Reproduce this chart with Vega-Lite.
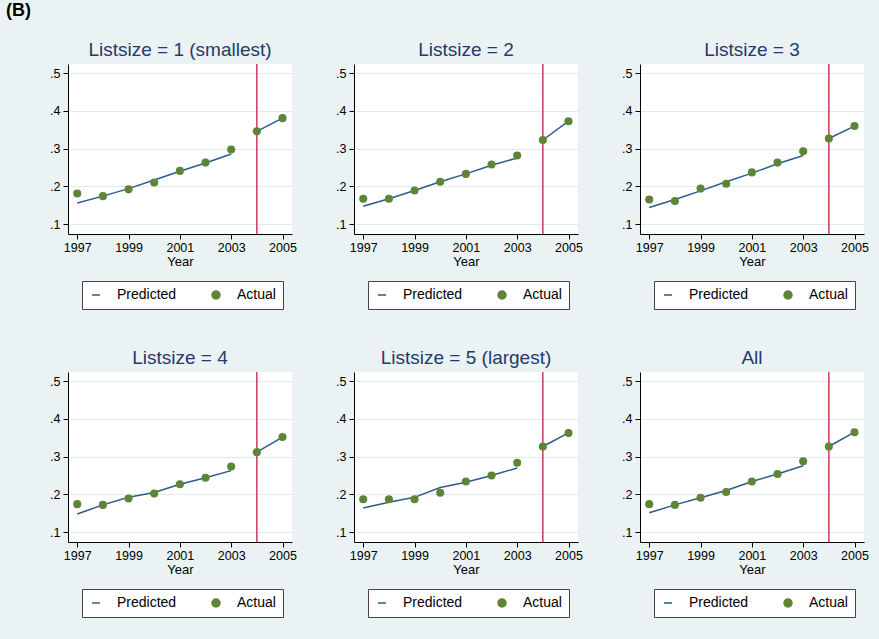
{
  "$schema": "https://vega.github.io/schema/vega-lite/v6.json",
  "background": "#eaf2f3",
  "padding": {"left": 6, "top": 2, "right": 14, "bottom": 26},
  "title": {"text": "(B)", "anchor": "start", "frame": "group", "fontSize": 18, "fontWeight": "bold", "color": "#000000", "dx": -62, "offset": 21},
  "config": {
    "view": {"fill": "white", "stroke": null},
    "font": "Liberation Sans",
    "title": {"fontSize": 19, "fontWeight": "normal", "color": "#1f3b6f", "font": "Liberation Sans", "offset": 3, "anchor": "middle"},
    "axis": {"domainColor": "#000000", "tickColor": "#000000", "labelColor": "#000000", "labelFontSize": 12.5, "titleFontSize": 13, "titleFontWeight": "normal", "titleColor": "#000000", "labelFont": "Liberation Sans", "titleFont": "Liberation Sans"}
  },
  "resolve": {"scale": {"color": "independent"}, "legend": {"color": "independent"}},
  "columns": 3,
  "spacing": {"row": 39, "column": 38},
  "datasets": {
    "rows": [
      {"panel": "p1", "year": 1997, "actual": 0.181, "predicted": 0.156, "seg": "fit"},
      {"panel": "p1", "year": 1998, "actual": 0.174, "predicted": 0.174, "seg": "fit"},
      {"panel": "p1", "year": 1999, "actual": 0.192, "predicted": 0.194, "seg": "fit"},
      {"panel": "p1", "year": 2000, "actual": 0.210, "predicted": 0.217, "seg": "fit"},
      {"panel": "p1", "year": 2001, "actual": 0.241, "predicted": 0.240, "seg": "fit"},
      {"panel": "p1", "year": 2002, "actual": 0.263, "predicted": 0.262, "seg": "fit"},
      {"panel": "p1", "year": 2003, "actual": 0.298, "predicted": 0.286, "seg": "fit"},
      {"panel": "p1", "year": 2004, "actual": 0.346, "predicted": 0.346, "seg": "post"},
      {"panel": "p1", "year": 2005, "actual": 0.381, "predicted": 0.381, "seg": "post"},
      {"panel": "p2", "year": 1997, "actual": 0.167, "predicted": 0.147, "seg": "fit"},
      {"panel": "p2", "year": 1998, "actual": 0.167, "predicted": 0.167, "seg": "fit"},
      {"panel": "p2", "year": 1999, "actual": 0.189, "predicted": 0.189, "seg": "fit"},
      {"panel": "p2", "year": 2000, "actual": 0.212, "predicted": 0.212, "seg": "fit"},
      {"panel": "p2", "year": 2001, "actual": 0.233, "predicted": 0.233, "seg": "fit"},
      {"panel": "p2", "year": 2002, "actual": 0.258, "predicted": 0.256, "seg": "fit"},
      {"panel": "p2", "year": 2003, "actual": 0.282, "predicted": 0.275, "seg": "fit"},
      {"panel": "p2", "year": 2004, "actual": 0.323, "predicted": 0.323, "seg": "post"},
      {"panel": "p2", "year": 2005, "actual": 0.373, "predicted": 0.373, "seg": "post"},
      {"panel": "p3", "year": 1997, "actual": 0.165, "predicted": 0.144, "seg": "fit"},
      {"panel": "p3", "year": 1998, "actual": 0.161, "predicted": 0.165, "seg": "fit"},
      {"panel": "p3", "year": 1999, "actual": 0.194, "predicted": 0.188, "seg": "fit"},
      {"panel": "p3", "year": 2000, "actual": 0.207, "predicted": 0.212, "seg": "fit"},
      {"panel": "p3", "year": 2001, "actual": 0.237, "predicted": 0.235, "seg": "fit"},
      {"panel": "p3", "year": 2002, "actual": 0.263, "predicted": 0.260, "seg": "fit"},
      {"panel": "p3", "year": 2003, "actual": 0.293, "predicted": 0.282, "seg": "fit"},
      {"panel": "p3", "year": 2004, "actual": 0.327, "predicted": 0.327, "seg": "post"},
      {"panel": "p3", "year": 2005, "actual": 0.360, "predicted": 0.360, "seg": "post"},
      {"panel": "p4", "year": 1997, "actual": 0.174, "predicted": 0.148, "seg": "fit"},
      {"panel": "p4", "year": 1998, "actual": 0.172, "predicted": 0.172, "seg": "fit"},
      {"panel": "p4", "year": 1999, "actual": 0.189, "predicted": 0.192, "seg": "fit"},
      {"panel": "p4", "year": 2000, "actual": 0.202, "predicted": 0.205, "seg": "fit"},
      {"panel": "p4", "year": 2001, "actual": 0.227, "predicted": 0.227, "seg": "fit"},
      {"panel": "p4", "year": 2002, "actual": 0.244, "predicted": 0.244, "seg": "fit"},
      {"panel": "p4", "year": 2003, "actual": 0.274, "predicted": 0.263, "seg": "fit"},
      {"panel": "p4", "year": 2004, "actual": 0.312, "predicted": 0.312, "seg": "post"},
      {"panel": "p4", "year": 2005, "actual": 0.352, "predicted": 0.352, "seg": "post"},
      {"panel": "p5", "year": 1997, "actual": 0.187, "predicted": 0.164, "seg": "fit"},
      {"panel": "p5", "year": 1998, "actual": 0.187, "predicted": 0.179, "seg": "fit"},
      {"panel": "p5", "year": 1999, "actual": 0.187, "predicted": 0.192, "seg": "fit"},
      {"panel": "p5", "year": 2000, "actual": 0.204, "predicted": 0.218, "seg": "fit"},
      {"panel": "p5", "year": 2001, "actual": 0.234, "predicted": 0.232, "seg": "fit"},
      {"panel": "p5", "year": 2002, "actual": 0.250, "predicted": 0.250, "seg": "fit"},
      {"panel": "p5", "year": 2003, "actual": 0.284, "predicted": 0.270, "seg": "fit"},
      {"panel": "p5", "year": 2004, "actual": 0.327, "predicted": 0.327, "seg": "post"},
      {"panel": "p5", "year": 2005, "actual": 0.363, "predicted": 0.363, "seg": "post"},
      {"panel": "p6", "year": 1997, "actual": 0.174, "predicted": 0.151, "seg": "fit"},
      {"panel": "p6", "year": 1998, "actual": 0.172, "predicted": 0.172, "seg": "fit"},
      {"panel": "p6", "year": 1999, "actual": 0.191, "predicted": 0.191, "seg": "fit"},
      {"panel": "p6", "year": 2000, "actual": 0.206, "predicted": 0.210, "seg": "fit"},
      {"panel": "p6", "year": 2001, "actual": 0.234, "predicted": 0.234, "seg": "fit"},
      {"panel": "p6", "year": 2002, "actual": 0.254, "predicted": 0.254, "seg": "fit"},
      {"panel": "p6", "year": 2003, "actual": 0.288, "predicted": 0.276, "seg": "fit"},
      {"panel": "p6", "year": 2004, "actual": 0.327, "predicted": 0.327, "seg": "post"},
      {"panel": "p6", "year": 2005, "actual": 0.365, "predicted": 0.365, "seg": "post"}
    ],
    "cut": [{"year": 2004}]
  },
  "concat": [
    {
      "title": "Listsize = 1 (smallest)", "width": 224, "height": 170,
      "layer": [
        {"data": {"name": "cut"}, "mark": {"type": "rule", "color": "#cc3a5c", "strokeWidth": 1.5},
         "encoding": {"x": {"field": "year", "type": "quantitative", "scale": {"domain": [1996.64, 2005.37], "nice": false, "zero": false}}}},
        {"data": {"name": "rows"}, "transform": [{"filter": {"field": "panel", "equal": "p1"}}],
         "mark": {"type": "line", "strokeWidth": 1.5},
         "encoding": {
           "x": {"field": "year", "type": "quantitative", "scale": {"domain": [1996.64, 2005.37], "nice": false, "zero": false},
                 "axis": {"title": "Year", "values": [1997, 1998, 1999, 2000, 2001, 2002, 2003, 2004, 2005], "format": "d", "labelExpr": "datum.value % 2 === 1 ? datum.label : ''", "tickSize": {"condition": {"test": "datum.value % 2 === 1", "value": 5}, "value": 3}, "grid": false, "labelPadding": 2, "titlePadding": 2, "labelFlush": false, "labelOverlap": false}},
           "y": {"field": "predicted", "type": "quantitative", "scale": {"domain": [0.0735, 0.5247], "nice": false, "zero": false},
                 "axis": {"title": null, "values": [0.1, 0.15, 0.2, 0.25, 0.3, 0.35, 0.4, 0.45, 0.5], "labelExpr": "round(datum.value*100) % 10 === 0 ? replace(format(datum.value, '.1f'), '0.', '.') : ''", "tickSize": {"condition": {"test": "round(datum.value*100) % 10 === 0", "value": 5}, "value": 3}, "grid": true, "gridColor": {"condition": {"test": "round(datum.value*100) % 10 === 0", "value": "#e3eaee"}, "value": "transparent"}, "labelPadding": 3, "labelOverlap": false}},
           "detail": {"field": "seg"},
           "color": {"datum": "Predicted", "scale": {"domain": ["Predicted", "Actual"], "range": ["#2b5c8a", "#5e8536"]},
                     "legend": {"title": null, "orient": "none", "legendX": 14, "legendY": 217, "direction": "horizontal", "fillColor": "white", "strokeColor": "#444444", "padding": 7, "symbolSize": 64, "labelFontSize": 14, "labelFont": "Liberation Sans", "labelColor": "#000000", "labelOffset": 14, "columnPadding": 32,
                                "encode": {"symbols": {"update": {"shape": {"signal": "datum.value === 'Predicted' ? 'stroke' : 'circle'"}, "fill": {"signal": "datum.value === 'Predicted' ? 'transparent' : '#5e8536'"}, "stroke": {"signal": "datum.value === 'Predicted' ? '#2b5c8a' : 'transparent'"}, "strokeWidth": {"value": 1.5}, "opacity": {"value": 1}}}}}}
         }},
        {"data": {"name": "rows"}, "transform": [{"filter": {"field": "panel", "equal": "p1"}}],
         "mark": {"type": "circle", "size": 65, "opacity": 1},
         "encoding": {
           "x": {"field": "year", "type": "quantitative", "scale": {"domain": [1996.64, 2005.37], "nice": false, "zero": false}},
           "y": {"field": "actual", "type": "quantitative", "scale": {"domain": [0.0735, 0.5247], "nice": false, "zero": false}},
           "color": {"datum": "Actual"}
         }}
      ]
    },
    {
      "title": "Listsize = 2", "width": 224, "height": 170,
      "layer": [
        {"data": {"name": "cut"}, "mark": {"type": "rule", "color": "#cc3a5c", "strokeWidth": 1.5},
         "encoding": {"x": {"field": "year", "type": "quantitative", "scale": {"domain": [1996.64, 2005.37], "nice": false, "zero": false}}}},
        {"data": {"name": "rows"}, "transform": [{"filter": {"field": "panel", "equal": "p2"}}],
         "mark": {"type": "line", "strokeWidth": 1.5},
         "encoding": {
           "x": {"field": "year", "type": "quantitative", "scale": {"domain": [1996.64, 2005.37], "nice": false, "zero": false},
                 "axis": {"title": "Year", "values": [1997, 1998, 1999, 2000, 2001, 2002, 2003, 2004, 2005], "format": "d", "labelExpr": "datum.value % 2 === 1 ? datum.label : ''", "tickSize": {"condition": {"test": "datum.value % 2 === 1", "value": 5}, "value": 3}, "grid": false, "labelPadding": 2, "titlePadding": 2, "labelFlush": false, "labelOverlap": false}},
           "y": {"field": "predicted", "type": "quantitative", "scale": {"domain": [0.0735, 0.5247], "nice": false, "zero": false},
                 "axis": {"title": null, "values": [0.1, 0.15, 0.2, 0.25, 0.3, 0.35, 0.4, 0.45, 0.5], "labelExpr": "round(datum.value*100) % 10 === 0 ? replace(format(datum.value, '.1f'), '0.', '.') : ''", "tickSize": {"condition": {"test": "round(datum.value*100) % 10 === 0", "value": 5}, "value": 3}, "grid": true, "gridColor": {"condition": {"test": "round(datum.value*100) % 10 === 0", "value": "#e3eaee"}, "value": "transparent"}, "labelPadding": 3, "labelOverlap": false}},
           "detail": {"field": "seg"},
           "color": {"datum": "Predicted", "scale": {"domain": ["Predicted", "Actual"], "range": ["#2b5c8a", "#5e8536"]},
                     "legend": {"title": null, "orient": "none", "legendX": 14, "legendY": 217, "direction": "horizontal", "fillColor": "white", "strokeColor": "#444444", "padding": 7, "symbolSize": 64, "labelFontSize": 14, "labelFont": "Liberation Sans", "labelColor": "#000000", "labelOffset": 14, "columnPadding": 32,
                                "encode": {"symbols": {"update": {"shape": {"signal": "datum.value === 'Predicted' ? 'stroke' : 'circle'"}, "fill": {"signal": "datum.value === 'Predicted' ? 'transparent' : '#5e8536'"}, "stroke": {"signal": "datum.value === 'Predicted' ? '#2b5c8a' : 'transparent'"}, "strokeWidth": {"value": 1.5}, "opacity": {"value": 1}}}}}}
         }},
        {"data": {"name": "rows"}, "transform": [{"filter": {"field": "panel", "equal": "p2"}}],
         "mark": {"type": "circle", "size": 65, "opacity": 1},
         "encoding": {
           "x": {"field": "year", "type": "quantitative", "scale": {"domain": [1996.64, 2005.37], "nice": false, "zero": false}},
           "y": {"field": "actual", "type": "quantitative", "scale": {"domain": [0.0735, 0.5247], "nice": false, "zero": false}},
           "color": {"datum": "Actual"}
         }}
      ]
    },
    {
      "title": "Listsize = 3", "width": 224, "height": 170,
      "layer": [
        {"data": {"name": "cut"}, "mark": {"type": "rule", "color": "#cc3a5c", "strokeWidth": 1.5},
         "encoding": {"x": {"field": "year", "type": "quantitative", "scale": {"domain": [1996.64, 2005.37], "nice": false, "zero": false}}}},
        {"data": {"name": "rows"}, "transform": [{"filter": {"field": "panel", "equal": "p3"}}],
         "mark": {"type": "line", "strokeWidth": 1.5},
         "encoding": {
           "x": {"field": "year", "type": "quantitative", "scale": {"domain": [1996.64, 2005.37], "nice": false, "zero": false},
                 "axis": {"title": "Year", "values": [1997, 1998, 1999, 2000, 2001, 2002, 2003, 2004, 2005], "format": "d", "labelExpr": "datum.value % 2 === 1 ? datum.label : ''", "tickSize": {"condition": {"test": "datum.value % 2 === 1", "value": 5}, "value": 3}, "grid": false, "labelPadding": 2, "titlePadding": 2, "labelFlush": false, "labelOverlap": false}},
           "y": {"field": "predicted", "type": "quantitative", "scale": {"domain": [0.0735, 0.5247], "nice": false, "zero": false},
                 "axis": {"title": null, "values": [0.1, 0.15, 0.2, 0.25, 0.3, 0.35, 0.4, 0.45, 0.5], "labelExpr": "round(datum.value*100) % 10 === 0 ? replace(format(datum.value, '.1f'), '0.', '.') : ''", "tickSize": {"condition": {"test": "round(datum.value*100) % 10 === 0", "value": 5}, "value": 3}, "grid": true, "gridColor": {"condition": {"test": "round(datum.value*100) % 10 === 0", "value": "#e3eaee"}, "value": "transparent"}, "labelPadding": 3, "labelOverlap": false}},
           "detail": {"field": "seg"},
           "color": {"datum": "Predicted", "scale": {"domain": ["Predicted", "Actual"], "range": ["#2b5c8a", "#5e8536"]},
                     "legend": {"title": null, "orient": "none", "legendX": 14, "legendY": 217, "direction": "horizontal", "fillColor": "white", "strokeColor": "#444444", "padding": 7, "symbolSize": 64, "labelFontSize": 14, "labelFont": "Liberation Sans", "labelColor": "#000000", "labelOffset": 14, "columnPadding": 32,
                                "encode": {"symbols": {"update": {"shape": {"signal": "datum.value === 'Predicted' ? 'stroke' : 'circle'"}, "fill": {"signal": "datum.value === 'Predicted' ? 'transparent' : '#5e8536'"}, "stroke": {"signal": "datum.value === 'Predicted' ? '#2b5c8a' : 'transparent'"}, "strokeWidth": {"value": 1.5}, "opacity": {"value": 1}}}}}}
         }},
        {"data": {"name": "rows"}, "transform": [{"filter": {"field": "panel", "equal": "p3"}}],
         "mark": {"type": "circle", "size": 65, "opacity": 1},
         "encoding": {
           "x": {"field": "year", "type": "quantitative", "scale": {"domain": [1996.64, 2005.37], "nice": false, "zero": false}},
           "y": {"field": "actual", "type": "quantitative", "scale": {"domain": [0.0735, 0.5247], "nice": false, "zero": false}},
           "color": {"datum": "Actual"}
         }}
      ]
    },
    {
      "title": "Listsize = 4", "width": 224, "height": 170,
      "layer": [
        {"data": {"name": "cut"}, "mark": {"type": "rule", "color": "#cc3a5c", "strokeWidth": 1.5},
         "encoding": {"x": {"field": "year", "type": "quantitative", "scale": {"domain": [1996.64, 2005.37], "nice": false, "zero": false}}}},
        {"data": {"name": "rows"}, "transform": [{"filter": {"field": "panel", "equal": "p4"}}],
         "mark": {"type": "line", "strokeWidth": 1.5},
         "encoding": {
           "x": {"field": "year", "type": "quantitative", "scale": {"domain": [1996.64, 2005.37], "nice": false, "zero": false},
                 "axis": {"title": "Year", "values": [1997, 1998, 1999, 2000, 2001, 2002, 2003, 2004, 2005], "format": "d", "labelExpr": "datum.value % 2 === 1 ? datum.label : ''", "tickSize": {"condition": {"test": "datum.value % 2 === 1", "value": 5}, "value": 3}, "grid": false, "labelPadding": 2, "titlePadding": 2, "labelFlush": false, "labelOverlap": false}},
           "y": {"field": "predicted", "type": "quantitative", "scale": {"domain": [0.0735, 0.5247], "nice": false, "zero": false},
                 "axis": {"title": null, "values": [0.1, 0.15, 0.2, 0.25, 0.3, 0.35, 0.4, 0.45, 0.5], "labelExpr": "round(datum.value*100) % 10 === 0 ? replace(format(datum.value, '.1f'), '0.', '.') : ''", "tickSize": {"condition": {"test": "round(datum.value*100) % 10 === 0", "value": 5}, "value": 3}, "grid": true, "gridColor": {"condition": {"test": "round(datum.value*100) % 10 === 0", "value": "#e3eaee"}, "value": "transparent"}, "labelPadding": 3, "labelOverlap": false}},
           "detail": {"field": "seg"},
           "color": {"datum": "Predicted", "scale": {"domain": ["Predicted", "Actual"], "range": ["#2b5c8a", "#5e8536"]},
                     "legend": {"title": null, "orient": "none", "legendX": 14, "legendY": 217, "direction": "horizontal", "fillColor": "white", "strokeColor": "#444444", "padding": 7, "symbolSize": 64, "labelFontSize": 14, "labelFont": "Liberation Sans", "labelColor": "#000000", "labelOffset": 14, "columnPadding": 32,
                                "encode": {"symbols": {"update": {"shape": {"signal": "datum.value === 'Predicted' ? 'stroke' : 'circle'"}, "fill": {"signal": "datum.value === 'Predicted' ? 'transparent' : '#5e8536'"}, "stroke": {"signal": "datum.value === 'Predicted' ? '#2b5c8a' : 'transparent'"}, "strokeWidth": {"value": 1.5}, "opacity": {"value": 1}}}}}}
         }},
        {"data": {"name": "rows"}, "transform": [{"filter": {"field": "panel", "equal": "p4"}}],
         "mark": {"type": "circle", "size": 65, "opacity": 1},
         "encoding": {
           "x": {"field": "year", "type": "quantitative", "scale": {"domain": [1996.64, 2005.37], "nice": false, "zero": false}},
           "y": {"field": "actual", "type": "quantitative", "scale": {"domain": [0.0735, 0.5247], "nice": false, "zero": false}},
           "color": {"datum": "Actual"}
         }}
      ]
    },
    {
      "title": "Listsize = 5 (largest)", "width": 224, "height": 170,
      "layer": [
        {"data": {"name": "cut"}, "mark": {"type": "rule", "color": "#cc3a5c", "strokeWidth": 1.5},
         "encoding": {"x": {"field": "year", "type": "quantitative", "scale": {"domain": [1996.64, 2005.37], "nice": false, "zero": false}}}},
        {"data": {"name": "rows"}, "transform": [{"filter": {"field": "panel", "equal": "p5"}}],
         "mark": {"type": "line", "strokeWidth": 1.5},
         "encoding": {
           "x": {"field": "year", "type": "quantitative", "scale": {"domain": [1996.64, 2005.37], "nice": false, "zero": false},
                 "axis": {"title": "Year", "values": [1997, 1998, 1999, 2000, 2001, 2002, 2003, 2004, 2005], "format": "d", "labelExpr": "datum.value % 2 === 1 ? datum.label : ''", "tickSize": {"condition": {"test": "datum.value % 2 === 1", "value": 5}, "value": 3}, "grid": false, "labelPadding": 2, "titlePadding": 2, "labelFlush": false, "labelOverlap": false}},
           "y": {"field": "predicted", "type": "quantitative", "scale": {"domain": [0.0735, 0.5247], "nice": false, "zero": false},
                 "axis": {"title": null, "values": [0.1, 0.15, 0.2, 0.25, 0.3, 0.35, 0.4, 0.45, 0.5], "labelExpr": "round(datum.value*100) % 10 === 0 ? replace(format(datum.value, '.1f'), '0.', '.') : ''", "tickSize": {"condition": {"test": "round(datum.value*100) % 10 === 0", "value": 5}, "value": 3}, "grid": true, "gridColor": {"condition": {"test": "round(datum.value*100) % 10 === 0", "value": "#e3eaee"}, "value": "transparent"}, "labelPadding": 3, "labelOverlap": false}},
           "detail": {"field": "seg"},
           "color": {"datum": "Predicted", "scale": {"domain": ["Predicted", "Actual"], "range": ["#2b5c8a", "#5e8536"]},
                     "legend": {"title": null, "orient": "none", "legendX": 14, "legendY": 217, "direction": "horizontal", "fillColor": "white", "strokeColor": "#444444", "padding": 7, "symbolSize": 64, "labelFontSize": 14, "labelFont": "Liberation Sans", "labelColor": "#000000", "labelOffset": 14, "columnPadding": 32,
                                "encode": {"symbols": {"update": {"shape": {"signal": "datum.value === 'Predicted' ? 'stroke' : 'circle'"}, "fill": {"signal": "datum.value === 'Predicted' ? 'transparent' : '#5e8536'"}, "stroke": {"signal": "datum.value === 'Predicted' ? '#2b5c8a' : 'transparent'"}, "strokeWidth": {"value": 1.5}, "opacity": {"value": 1}}}}}}
         }},
        {"data": {"name": "rows"}, "transform": [{"filter": {"field": "panel", "equal": "p5"}}],
         "mark": {"type": "circle", "size": 65, "opacity": 1},
         "encoding": {
           "x": {"field": "year", "type": "quantitative", "scale": {"domain": [1996.64, 2005.37], "nice": false, "zero": false}},
           "y": {"field": "actual", "type": "quantitative", "scale": {"domain": [0.0735, 0.5247], "nice": false, "zero": false}},
           "color": {"datum": "Actual"}
         }}
      ]
    },
    {
      "title": "All", "width": 224, "height": 170,
      "layer": [
        {"data": {"name": "cut"}, "mark": {"type": "rule", "color": "#cc3a5c", "strokeWidth": 1.5},
         "encoding": {"x": {"field": "year", "type": "quantitative", "scale": {"domain": [1996.64, 2005.37], "nice": false, "zero": false}}}},
        {"data": {"name": "rows"}, "transform": [{"filter": {"field": "panel", "equal": "p6"}}],
         "mark": {"type": "line", "strokeWidth": 1.5},
         "encoding": {
           "x": {"field": "year", "type": "quantitative", "scale": {"domain": [1996.64, 2005.37], "nice": false, "zero": false},
                 "axis": {"title": "Year", "values": [1997, 1998, 1999, 2000, 2001, 2002, 2003, 2004, 2005], "format": "d", "labelExpr": "datum.value % 2 === 1 ? datum.label : ''", "tickSize": {"condition": {"test": "datum.value % 2 === 1", "value": 5}, "value": 3}, "grid": false, "labelPadding": 2, "titlePadding": 2, "labelFlush": false, "labelOverlap": false}},
           "y": {"field": "predicted", "type": "quantitative", "scale": {"domain": [0.0735, 0.5247], "nice": false, "zero": false},
                 "axis": {"title": null, "values": [0.1, 0.15, 0.2, 0.25, 0.3, 0.35, 0.4, 0.45, 0.5], "labelExpr": "round(datum.value*100) % 10 === 0 ? replace(format(datum.value, '.1f'), '0.', '.') : ''", "tickSize": {"condition": {"test": "round(datum.value*100) % 10 === 0", "value": 5}, "value": 3}, "grid": true, "gridColor": {"condition": {"test": "round(datum.value*100) % 10 === 0", "value": "#e3eaee"}, "value": "transparent"}, "labelPadding": 3, "labelOverlap": false}},
           "detail": {"field": "seg"},
           "color": {"datum": "Predicted", "scale": {"domain": ["Predicted", "Actual"], "range": ["#2b5c8a", "#5e8536"]},
                     "legend": {"title": null, "orient": "none", "legendX": 14, "legendY": 217, "direction": "horizontal", "fillColor": "white", "strokeColor": "#444444", "padding": 7, "symbolSize": 64, "labelFontSize": 14, "labelFont": "Liberation Sans", "labelColor": "#000000", "labelOffset": 14, "columnPadding": 32,
                                "encode": {"symbols": {"update": {"shape": {"signal": "datum.value === 'Predicted' ? 'stroke' : 'circle'"}, "fill": {"signal": "datum.value === 'Predicted' ? 'transparent' : '#5e8536'"}, "stroke": {"signal": "datum.value === 'Predicted' ? '#2b5c8a' : 'transparent'"}, "strokeWidth": {"value": 1.5}, "opacity": {"value": 1}}}}}}
         }},
        {"data": {"name": "rows"}, "transform": [{"filter": {"field": "panel", "equal": "p6"}}],
         "mark": {"type": "circle", "size": 65, "opacity": 1},
         "encoding": {
           "x": {"field": "year", "type": "quantitative", "scale": {"domain": [1996.64, 2005.37], "nice": false, "zero": false}},
           "y": {"field": "actual", "type": "quantitative", "scale": {"domain": [0.0735, 0.5247], "nice": false, "zero": false}},
           "color": {"datum": "Actual"}
         }}
      ]
    }
  ]
}
